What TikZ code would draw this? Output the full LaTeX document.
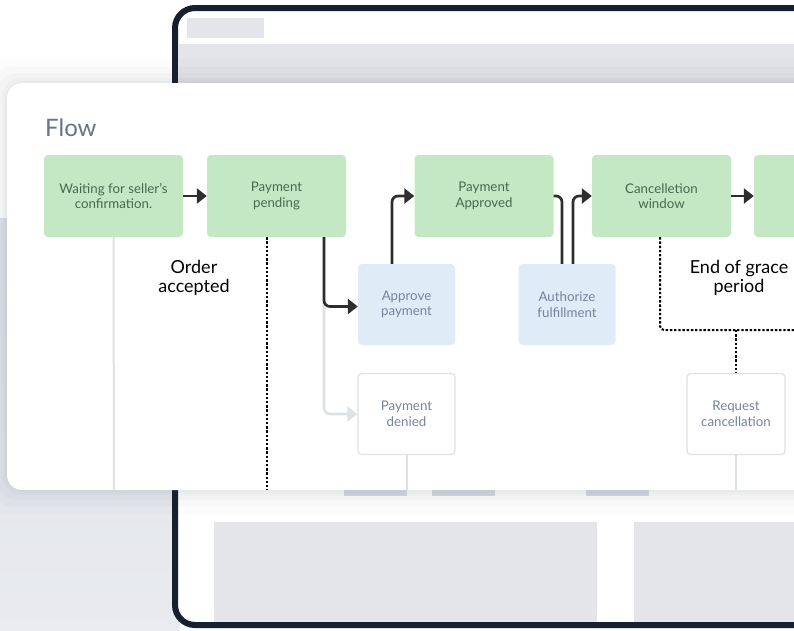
\documentclass[tikz,border=0pt]{standalone}
\usepackage{fontspec}
\setmainfont{Lato}
\usetikzlibrary{arrows.meta,positioning}

\definecolor{framenavy}{HTML}{17202F}
\definecolor{screengray}{HTML}{E4E5EA}
\definecolor{tabgray}{HTML}{D8DBE2}
\definecolor{sidegray}{HTML}{DFE2E9}
\definecolor{boxgreen}{HTML}{C4E7C4}
\definecolor{textgreen}{HTML}{466A4E}
\definecolor{boxblue}{HTML}{DFECF8}
\definecolor{textslate}{HTML}{76839A}
\definecolor{linegray}{HTML}{DEE2E7}
\definecolor{arrowdark}{HTML}{2E2E2E}
\definecolor{titlegray}{HTML}{6B7280}

\tikzset{
  stepgreen/.style={fill=boxgreen, text=textgreen, rounded corners=4pt,
    minimum width=139pt, minimum height=82pt, inner sep=0pt, align=center,
    font=\fontsize{13.3}{15.5}\selectfont},
  actionblue/.style={fill=boxblue, text=textslate, rounded corners=4pt,
    minimum width=97pt, minimum height=81pt, inner sep=0pt, align=center,
    font=\fontsize{13.3}{15.5}\selectfont},
  actionwhite/.style={actionblue, fill=white, draw=linegray, line width=1.2pt},
  eventlabel/.style={align=center, font=\fontsize{18}{19.5}\selectfont},
  flowarrow/.style={draw=arrowdark, line width=2.7pt, rounded corners=6pt,
    -{Triangle[length=10pt,width=15pt]}},
  flowline/.style={draw=arrowdark, line width=2.7pt, rounded corners=6pt},
  ghostarrow/.style={flowarrow, draw=linegray},
  ghostline/.style={draw=linegray, line width=2pt},
  timerline/.style={draw=black, line width=2pt, dash pattern=on 2.4pt off 1.8pt,
    rounded corners=4pt}
}

\begin{document}
\begin{tikzpicture}[x=1pt,y=-1pt]
\useasboundingbox (0,0) rectangle (794,630);
\clip (0,0) rectangle (794,630);

%Backdrop
\fill[white] (0,0) rectangle (794,630);
\shade[top color=sidegray, bottom color=sidegray!70!white] (0,218) rectangle (180,630);

%Tablet
\draw[framenavy, fill=white, line width=6pt, rounded corners=20pt] (175,8) rectangle (840,625);
\fill[screengray] (187,18) rectangle (264,38);
\fill[screengray] (178,44) rectangle (794,90);
\fill[tabgray] (344,486) rectangle (407,496);
\fill[tabgray] (432,486) rectangle (495,496);
\fill[tabgray] (586,486) rectangle (649,496);
\fill[screengray] (214,522) rectangle (597,622);
\fill[screengray] (634,522) rectangle (794,622);

%Card
\foreach \s/\o in {24/0.012, 16/0.015, 10/0.02, 5/0.025, 2/0.03}
  \fill[framenavy, opacity=\o, rounded corners=20pt] (7-\s,83-\s) rectangle (830,490+\s);
\fill[white, rounded corners=15pt] (7,83) rectangle (830,490);
\node[anchor=base west, inner sep=0pt, text=titlegray, font=\fontsize{24}{26}\selectfont] (title) at (45,136) {Flow};

%Steps
\node[stepgreen] (waiting) at (113.5,196) {Waiting for seller's\\confirmation.};
\node[stepgreen] (pending) at (276.5,196) {Payment\\pending};
\node[stepgreen] (approved) at (484,196) {Payment\\Approved};
\node[stepgreen] (window) at (661.5,196) {Cancelletion\\window};
\node[stepgreen] (next) at (823.5,196) {};

%Actions
\node[actionblue] (approve) at (406.5,304.5) {Approve\\payment};
\node[actionblue] (authorize) at (567,304.5) {Authorize\\fulfillment};
\node[actionwhite] (denied) at (406.5,414) {Payment\\denied};
\node[actionwhite, minimum width=98pt] (cancel) at (736,414) {Request\\cancellation};

%Events
\node[eventlabel] (accepted) at (194,278) {Order\\accepted};
\node[eventlabel] (grace) at (739,278) {End of grace\\period};

%Ends
\coordinate (waitend) at (114,490);
\coordinate (pendend) at (266.5,490);
\coordinate (deniedend) at (406.5,490);
\coordinate (cancelend) at (736,490);
\coordinate (gracejoin) at (736,330);
\coordinate (graceend) at (800,330);

%Light lines
\draw[ghostline] (waiting.south) -- (waitend);
\draw[ghostline] (denied.south) -- (deniedend);
\draw[ghostline] (cancel.south) -- (cancelend);
\draw[ghostarrow] ([xshift=47.5pt]pending.south) |- (denied.west);

%Flow
\draw[flowarrow] (waiting) -- (pending);
\draw[flowarrow] ([xshift=47.5pt]pending.south) |- ([yshift=-2pt]approve.west);
\draw[flowarrow] ([xshift=-14.5pt]approve.north) |- (approved.west);
\draw[flowline] (approved.east) -| ([xshift=-5pt]authorize.north);
\draw[flowarrow] ([xshift=6pt]authorize.north) |- (window.west);
\draw[flowarrow] (window) -- (next);

%Timers
\draw[timerline] ([xshift=-10pt]pending.south) -- (pendend);
\draw[timerline] ([xshift=-1.5pt]window.south) |- (graceend);
\draw[timerline] (gracejoin) -- (cancel.north);

\end{tikzpicture}
\end{document}
